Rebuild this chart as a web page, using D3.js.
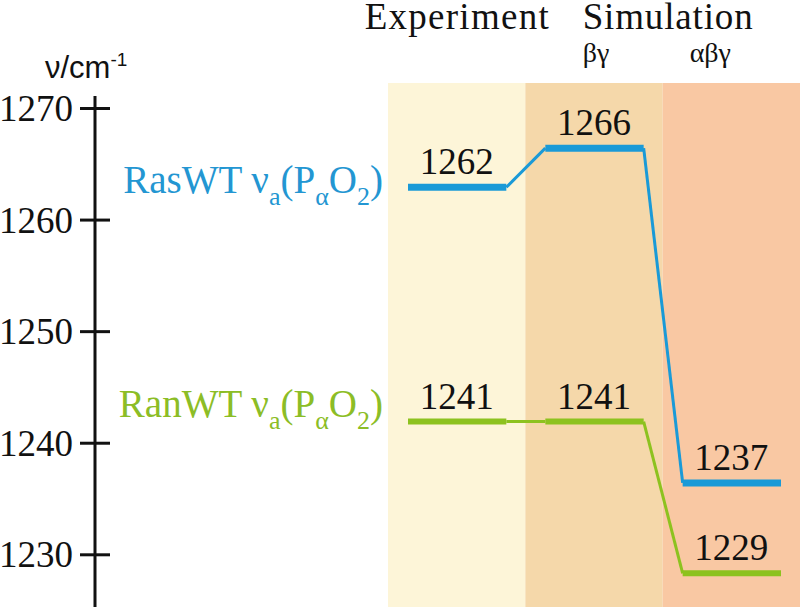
<!DOCTYPE html>
<html><head><meta charset="utf-8">
<script src="https://cdn.jsdelivr.net/npm/d3@7"></script>
<style>html,body{margin:0;padding:0;background:#fff;}svg{display:block;}</style>
</head><body>
<svg id="c" width="800" height="607"></svg>
<script>
// ---- data ----
const columns = ["Experiment", "βγ", "αβγ"];
const columnGroups = ["Experiment", "Simulation"];
const yTicks = [1230, 1240, 1250, 1260, 1270];
const seriesNames = ["RasWT", "RanWT"];
const rasValues = [1262.9, 1266.4, 1236.4];
const rasLabels = ["1262", "1266", "1237"];
const ranValues = [1241.9, 1241.9, 1228.3];
const ranLabels = ["1241", "1241", "1229"];
const seriesLabelAt = [1262.4, 1242.3];

const W = 800, H = 607;
const svg = d3.select("#c");
const SERIF = '"Liberation Serif", monospace';
const SANS = '"Liberation Sans", monospace';

const y = d3.scaleLinear().domain([1230, 1270]).range([554.3, 108]);
const x = d3.scaleBand().domain(columns).range([388, 800]).padding(0);
const bandColors = ["#FDF5D8", "#F5D8AA", "#F9C8A3"];

// background bands
svg.selectAll("rect.band").data(columns).join("rect")
  .attr("x", d => x(d)).attr("y", 83)
  .attr("width", x.bandwidth()).attr("height", H - 83)
  .attr("fill", (d, i) => bandColors[i]);

function txt(parent) {
  return parent.append("text").style("font-family", SERIF).attr("fill", "#111");
}
// headers
txt(svg).attr("x", x("Experiment") + x.bandwidth() / 2).attr("y", 29)
  .attr("text-anchor", "middle").attr("font-size", 37).attr("textLength", 184)
  .text(columnGroups[0]);
txt(svg).attr("x", x("βγ") + x.bandwidth() + 5).attr("y", 29)
  .attr("text-anchor", "middle").attr("font-size", 37).attr("textLength", 170)
  .text(columnGroups[1]);
txt(svg).attr("x", x("βγ") + x.bandwidth() / 2 + 2).attr("y", 62)
  .attr("text-anchor", "middle").attr("font-size", 28).text(columns[1]);
txt(svg).attr("x", x("αβγ") + x.bandwidth() / 2 - 21).attr("y", 62)
  .attr("text-anchor", "middle").attr("font-size", 28).text(columns[2]);

// axis
const axisX = 95;
const gL = svg.append("g").attr("transform", `translate(${axisX},0)`)
  .call(d3.axisLeft(y).tickValues(yTicks).tickSize(15).tickPadding(7).tickFormat(d3.format("d")));
const gR = svg.append("g").attr("transform", `translate(${axisX},0)`)
  .call(d3.axisRight(y).tickValues(yTicks).tickSize(15).tickFormat(""));
[gL, gR].forEach(g => {
  g.select(".domain").remove();
  g.attr("font-family", null);
  g.selectAll(".tick line").attr("stroke", "#111").attr("stroke-width", 3);
});
gL.selectAll(".tick text").style("font-family", SERIF).attr("font-size", 37)
  .attr("fill", "#111").attr("dy", "0.34em");
svg.append("line").attr("x1", axisX).attr("x2", axisX).attr("y1", 96).attr("y2", H)
  .attr("stroke", "#111").attr("stroke-width", 3);

// axis title
const at = svg.append("text").style("font-family", SANS).attr("x", 45).attr("y", 78)
  .attr("font-size", 31).attr("fill", "#111");
at.append("tspan").text("ν/cm");
at.append("tspan").attr("font-size", 19).attr("dy", -12).text("-1");

// series
const series = [
  { name: seriesNames[0], values: rasValues, labels: rasLabels, color: "#1A9AD7", text: "#2396D2", thick: 7 },
  { name: seriesNames[1], values: ranValues, labels: ranLabels, color: "#8DC21F", text: "#8CBD26", thick: 6 }
];
const inL = 20, inR = 19;
series.forEach((s, si) => {
  const g = svg.append("g");
  for (let i = 0; i < columns.length - 1; i++) {
    g.append("line")
      .attr("x1", x(columns[i]) + x.bandwidth() - inR).attr("y1", y(s.values[i]))
      .attr("x2", x(columns[i + 1]) + inL).attr("y2", y(s.values[i + 1]))
      .attr("stroke", s.color).attr("stroke-width", 3);
  }
  g.selectAll("line.lvl").data(s.values).join("line").attr("class", "lvl")
    .attr("x1", (d, i) => x(columns[i]) + inL)
    .attr("x2", (d, i) => x(columns[i]) + x.bandwidth() - inR)
    .attr("y1", d => y(d)).attr("y2", d => y(d))
    .attr("stroke", s.color).attr("stroke-width", s.thick);
  g.selectAll("text.val").data(s.values).join("text").attr("class", "val")
    .style("font-family", SERIF)
    .attr("x", (d, i) => x(columns[i]) + x.bandwidth() / 2)
    .attr("y", d => y(d) - 13)
    .attr("text-anchor", "middle").attr("font-size", 37)
    .attr("fill", "#111").text((d, i) => s.labels[i]);
  const t = svg.append("text").style("font-family", SERIF).attr("x", 383).attr("y", y(seriesLabelAt[si]))
    .attr("text-anchor", "end").attr("font-size", 39)
    .attr("fill", s.text);
  t.append("tspan").text(s.name + " ν");
  t.append("tspan").attr("font-size", 26).attr("dy", 12).text("a");
  t.append("tspan").attr("dy", -12).text("(P");
  t.append("tspan").attr("font-size", 26).attr("dy", 12).text("α");
  t.append("tspan").attr("dy", -12).text("O");
  t.append("tspan").attr("font-size", 26).attr("dy", 12).text("2");
  t.append("tspan").attr("dy", -12).text(")");
});
</script>
</body></html>
